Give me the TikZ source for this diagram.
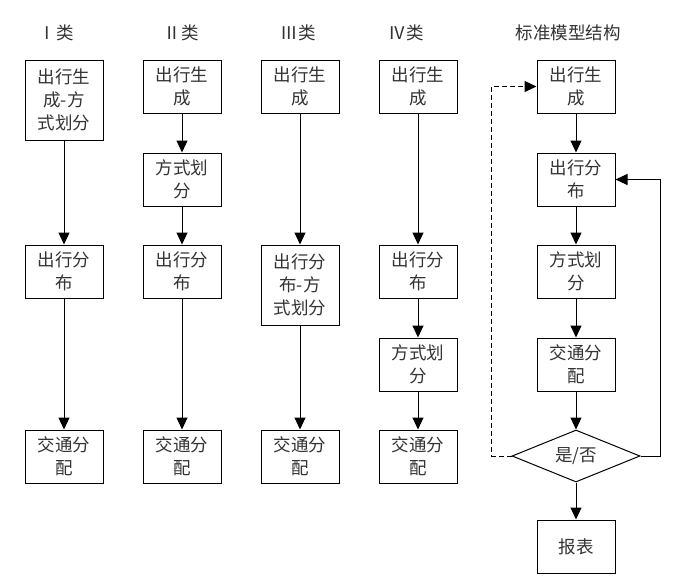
\documentclass[tikz,border=0pt]{standalone}
\usepackage{fontspec}
\newfontfamily\cjk{Noto Sans CJK SC}
\usetikzlibrary{arrows.meta,shapes.geometric}
\begin{document}
\begin{tikzpicture}[x=1pt,y=-1pt,
  font={\cjk\fontsize{17.5}{23}\selectfont},
  boxa/.style={draw,line width=1pt,minimum width=78pt,minimum height=53pt,align=center,inner sep=1pt,text=black!80},
  boxb/.style={boxa,minimum height=80pt},
  head/.style={text=black!80},
  arr/.style={line width=1pt,-{Triangle[length=12pt,width=11pt]}},
  dec/.style={draw,line width=1pt,diamond,aspect=2.46,minimum width=128pt,minimum height=52pt,inner sep=0pt,text=black!80}]
\useasboundingbox[fill=white] (0,0) rectangle (679,578);
% headers
\node[head] (h1) at (56,33) {Ⅰ类};
\node[head] (h2) at (181,33) {Ⅱ类};
\node[head] (h3) at (298,33) {Ⅲ类};
\node[head] (h4) at (406,33) {Ⅳ类};
\node[head] (h5) at (568,33) {标准模型结构};
% column 1
\node[boxb] (a1) at (64,100) {出行生\\成-方\\式划分};
\node[boxa] (a2) at (64,271.5) {出行分\\布};
\node[boxa] (a3) at (64,456.5) {交通分\\配};
\draw[arr] (a1) -- (a2);
\draw[arr] (a2) -- (a3);
% column 2
\node[boxa] (b1) at (182,86.5) {出行生\\成};
\node[boxa] (b2) at (182,179.5) {方式划\\分};
\node[boxa] (b3) at (182,271.5) {出行分\\布};
\node[boxa] (b4) at (182,456.5) {交通分\\配};
\draw[arr] (b1) -- (b2);
\draw[arr] (b2) -- (b3);
\draw[arr] (b3) -- (b4);
% column 3
\node[boxa] (c1) at (300,86.5) {出行生\\成};
\node[boxb] (c2) at (300,285) {出行分\\布-方\\式划分};
\node[boxa] (c3) at (300,456.5) {交通分\\配};
\draw[arr] (c1) -- (c2);
\draw[arr] (c2) -- (c3);
% column 4
\node[boxa] (d1) at (418,86.5) {出行生\\成};
\node[boxa] (d2) at (418,271.5) {出行分\\布};
\node[boxa] (d3) at (418,364.5) {方式划\\分};
\node[boxa] (d4) at (418,456.5) {交通分\\配};
\draw[arr] (d1) -- (d2);
\draw[arr] (d2) -- (d3);
\draw[arr] (d3) -- (d4);
% standard model
\node[boxa] (s1) at (576,86.5) {出行生\\成};
\node[boxa] (s2) at (576,179.5) {出行分\\布};
\node[boxa] (s3) at (576,271.5) {方式划\\分};
\node[boxa] (s4) at (576,364.5) {交通分\\配};
\node[dec] (s5) at (576,456) {是/否};
\node[boxa] (s6) at (576,546.5) {报表};
\draw[arr] (s1) -- (s2);
\draw[arr] (s2) -- (s3);
\draw[arr] (s3) -- (s4);
\draw[arr] (s4) -- (s5);
\draw[arr] (s5) -- (s6);
\draw[arr,dash pattern=on 5pt off 3pt] (s5.west) -- ++(-20,0) |- (s1.west);
\draw[arr] (s5.east) -- ++(20,0) |- (s2.east);
\end{tikzpicture}
\end{document}
